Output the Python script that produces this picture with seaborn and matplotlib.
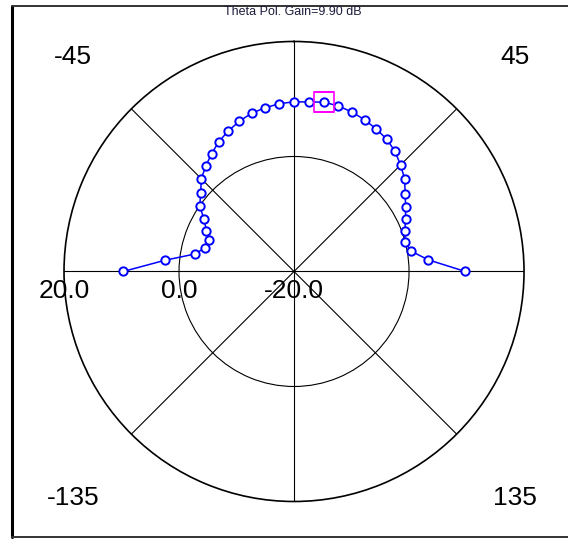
import numpy as np
import pandas as pd
import matplotlib
matplotlib.use("Agg")
import matplotlib.pyplot as plt
import matplotlib.transforms as mtransforms
from matplotlib.lines import Line2D
import seaborn as sns

# Theta-polarised gain pattern, -90..90 deg in 5 deg steps (dB)
angles_deg = list(range(-90, 95, 5))
gain_db = [9.7, 2.5, -2.5, -4.0, -4.2, -3.2, -1.9, 0.0, 1.2, 2.8,
           3.9, 5.0, 6.1, 7.0, 7.8, 8.5, 8.9, 9.3, 9.5, 9.6,
           9.9, 9.8, 9.5, 9.1, 8.6, 8.1, 7.3, 6.2, 5.1, 3.6,
           2.4, 1.4, 0.5, 0.0, 0.6, 3.4, 9.8]

corner_angles = [-45, 45, -135, 135]
corner_labels = ["-45", "45", "-135", "135"]
radial_ticks = [20.0, 0.0, -20.0]
title_text = "Theta Pol. Gain=9.90 dB"

sns.set_style("white")
plt.rcParams["font.family"] = ["Liberation Sans", "DejaVu Sans"]
plt.rcParams["text.color"] = "black"

fig = plt.figure(figsize=(5.68, 5.40), dpi=100)
ax = fig.add_axes([0.1127, 0.0713, 0.8099, 0.8519], projection="polar")
ax.set_theta_zero_location("N")
ax.set_theta_direction(-1)
ax.set_ylim(-20, 20)
ax.set_thetagrids(range(0, 360, 45), labels=[""] * 8)
ax.set_rgrids([0], labels=[""])
ax.grid(True, color="black", linewidth=0.8)
ax.spines["polar"].set_color("black")
ax.spines["polar"].set_linewidth(1.2)
ax.tick_params(length=0)

df = pd.DataFrame({"theta": np.deg2rad(angles_deg), "gain": gain_db})
sns.lineplot(data=df, x="theta", y="gain", ax=ax, sort=False,
             color="blue", linewidth=1.1, marker="o", markersize=6,
             markerfacecolor="white", markeredgecolor="blue",
             markeredgewidth=1.4)
ax.set_xlabel("")
ax.set_ylabel("")
ax.set_ylim(-20, 20)

# peak marker
i_pk = int(np.argmax(gain_db))
ax.plot(np.deg2rad(angles_deg[i_pk]), gain_db[i_pk], marker="s",
        markersize=14, markerfacecolor="none", markeredgecolor="#ff00ff",
        markeredgewidth=1.2, linestyle="none")

# corner angle labels
lower = mtransforms.offset_copy(ax.transData, fig=fig, x=0, y=-6, units="dots")
for a, lab in zip(corner_angles, corner_labels):
    ax.text(np.deg2rad(a), 34.3, lab, transform=lower, ha="center",
            va="center", fontsize=19, color="black", clip_on=False)

# radial scale labels along the -90 direction
below = mtransforms.offset_copy(ax.transData, fig=fig, x=0, y=-20, units="dots")
for r in radial_ticks:
    ax.text(np.deg2rad(-90), r, f"{r:.1f}", transform=below,
            ha="center", va="center", fontsize=19, color="black",
            clip_on=False)

fig.text(0.516, 0.977, title_text, ha="center", va="center",
         fontsize=9, color="#1c1c3c")

# frame
x0 = 12 / 568
fig.add_artist(Line2D([x0, x0], [0.0056, 0.9889], transform=fig.transFigure,
                      color="black", linewidth=2.2))
fig.add_artist(Line2D([x0, 1.0], [0.9889, 0.9889], transform=fig.transFigure,
                      color="#333333", linewidth=1.4))
fig.add_artist(Line2D([x0, 1.0], [0.0056, 0.0056], transform=fig.transFigure,
                      color="#333333", linewidth=1.4))

fig.savefig("out.png", dpi=100)
